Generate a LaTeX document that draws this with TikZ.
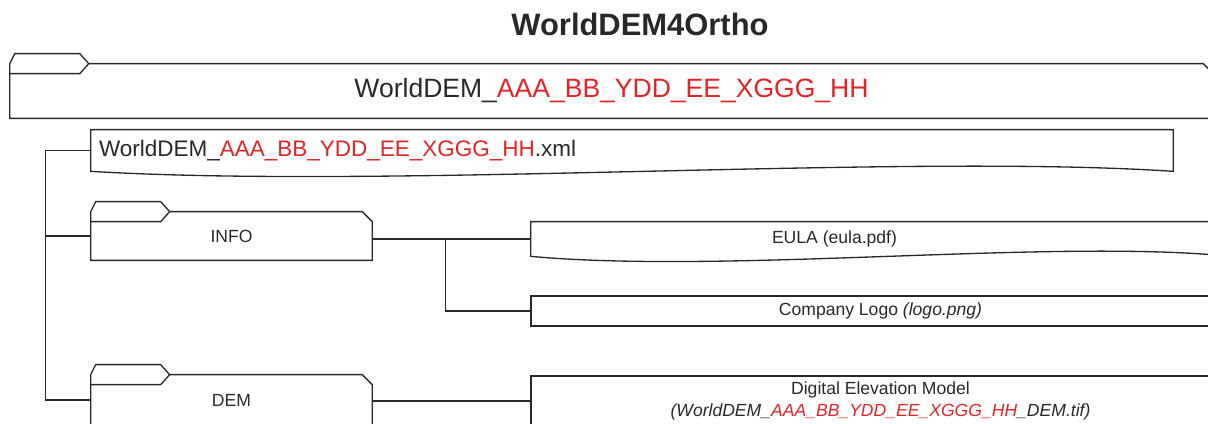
\documentclass[tikz,border=0pt]{standalone}
\usepackage{fontspec}
\setmainfont{Liberation Sans}
\usetikzlibrary{calc}

\definecolor{ink}{RGB}{40,40,40}
\definecolor{fnred}{RGB}{226,35,40}
\newcommand{\var}[1]{\textcolor{fnred}{#1}}

\tikzset{
  box/.style={inner sep=0pt, text=ink, font=\fontsize{10}{13}\selectfont},
  outline/.style={draw=ink, line width=0.75pt},
  filebox/.style={box, outline, minimum width=13.98cm},
  link/.style={draw=ink, line width=0.75pt},
}

% folder: tab on the top left, cut corner on the top right
\newcommand{\folder}[1]{%
  \draw[outline] (#1.south west) -- (#1.north west) -- ++(5,-10) -- ++(65,0) -- ++(9,10)
    -- ($(#1.north east)+(-10,0)$) -- ++(10,10) -- (#1.south east) -- cycle;
  \draw[outline] ($(#1.north west)+(0,10)$) -- ++(70,0) -- ++(9,-10);}
% document: wavy bottom
\newcommand{\doc}[1]{%
  \draw[outline] (#1.south west) |- (#1.north east) -- (#1.south east)
    .. controls ($(#1.south east)!0.25!(#1.south west)+(0,-18)$)
    and ($(#1.south east)!0.72!(#1.south west)+(0,18)$) .. (#1.south west) -- cycle;}

\begin{document}
\begin{tikzpicture}[x=0.02cm, y=-0.02cm]
\useasboundingbox (0,0) rectangle (1208,423);
\clip (0,0) rectangle (1208,423);

\node[box, font=\fontsize{17.6}{20}\bfseries] (title) at (640,24) {WorldDEM4Ortho};

% product folder
\node[box, minimum width=24.06cm, minimum height=1.08cm, font=\fontsize{15.1}{18}\selectfont]
  (root) at (611.5,91) {WorldDEM\_\var{AAA\_BB\_YDD\_EE\_XGGG\_HH}};
\folder{root}

% metadata
\node[box, minimum width=21.64cm, minimum height=0.82cm, inner xsep=0.16cm, text width=21.32cm,
  align=left, font=\fontsize{12.8}{15}\selectfont]
  (xml) at (632,150.5) {WorldDEM\_\var{AAA\_BB\_YDD\_EE\_XGGG\_HH}.xml};
\doc{xml}

% sub folders
\node[box, minimum width=5.62cm, minimum height=0.96cm] (info) at (231.5,236) {INFO};
\folder{info}
\node[box, minimum width=5.62cm, minimum height=1.0cm] (dem) at (231.5,400) {DEM};
\folder{dem}

% files
\node[box, minimum width=13.98cm, minimum height=0.68cm] (eula) at (880.5,239)
  {EULA (eula.pdf)\hspace*{1.84cm}};
\doc{eula}
\node[filebox, minimum height=0.6cm] (logo) at (880.5,311) {Company Logo \textit{(logo.png)}};
\node[filebox, minimum height=1.0cm, align=center] (tif) at (880.5,401)
  {Digital Elevation Model\\\textit{(WorldDEM\_\var{AAA\_BB\_YDD\_EE\_XGGG\_HH}\_DEM.tif)}};

% tree
\coordinate (trunk) at ([xshift=-0.9cm]xml.west);
\coordinate (split) at ([xshift=-1.7cm]eula.west);
\draw[link] (xml.west) -- (trunk) |- (dem.west);
\draw[link] (trunk) |- (info.west);
\draw[link] (info.east |- eula.west) -- (eula.west);
\draw[link] (split) |- (logo.west);
\draw[link] (dem.east |- tif.west) -- (tif.west);
\end{tikzpicture}
\end{document}
